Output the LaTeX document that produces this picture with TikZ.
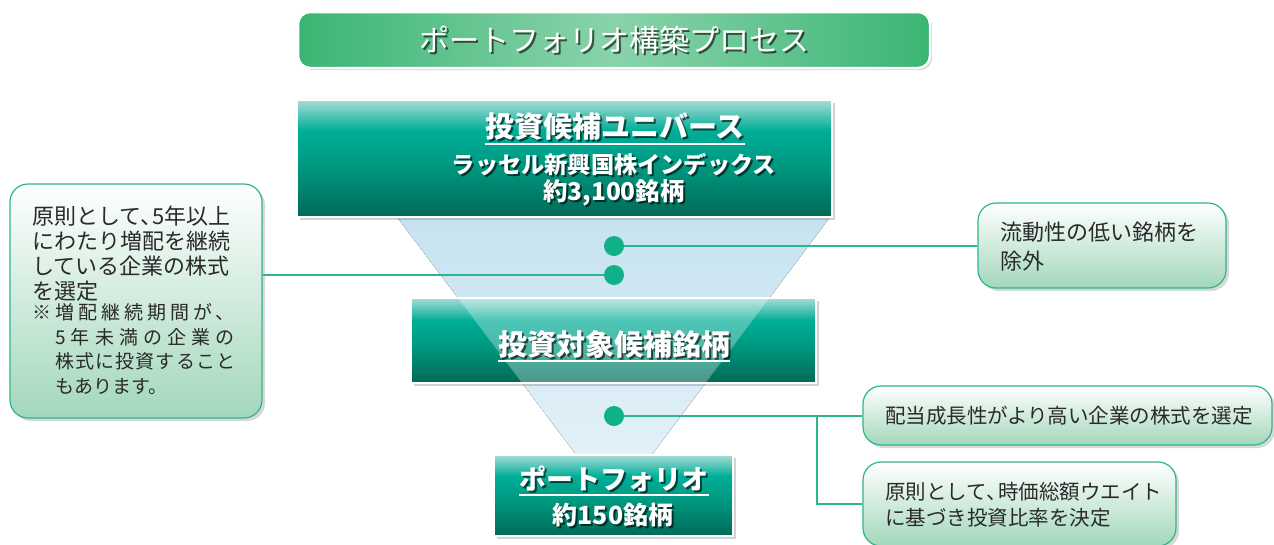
\documentclass[tikz,border=0pt]{standalone}
\usepackage{fontspec}
\setmainfont{Noto Sans CJK JP}
\usetikzlibrary{shadows,calc}
\definecolor{tlight}{HTML}{A8DCD6}
\definecolor{tbright}{HTML}{00AE98}
\definecolor{tmid}{HTML}{009A82}
\definecolor{tdark}{HTML}{006A56}
\definecolor{ggreen}{HTML}{3AB574}
\definecolor{glight}{HTML}{8AD3AA}
\definecolor{cline}{HTML}{2DB68E}
\definecolor{cfill}{HTML}{A2D7BA}
\definecolor{dotc}{HTML}{10B088}
\definecolor{funtop}{HTML}{C6E2F0}
\definecolor{funbot}{HTML}{E8F4FA}
\definecolor{txt}{HTML}{2A2A2A}
\pgfdeclareverticalshading{tealsh}{100bp}{color(0bp)=(tdark); color(25bp)=(tdark); color(48bp)=(tmid); color(62bp)=(tbright); color(75bp)=(tlight); color(100bp)=(tlight)}
\tikzset{
  tealbox/.style={draw=white, line width=2pt, shading=tealsh, drop shadow={opacity=0.35,shadow xshift=3pt,shadow yshift=-3pt}},
  titlebox/.style={draw=white, line width=2.5pt, rounded corners=12pt, left color=ggreen, right color=ggreen, middle color=glight, drop shadow={opacity=0.35,shadow xshift=2pt,shadow yshift=-2pt}},
  callout/.style={draw=cline, line width=1.2pt, rounded corners=18pt, top color=white, bottom color=cfill, drop shadow={opacity=0.3,shadow xshift=3pt,shadow yshift=-3pt}},
  wtxt/.style={text=white, inner sep=0pt, align=center},
  stxt/.style={text=black, opacity=0.6, inner sep=0pt, align=center},
  uline/.style={draw=white, line width=1.6pt},
  conn/.style={draw=cline, line width=1.3pt},
  dotn/.style={circle, fill=dotc, inner sep=0pt, minimum size=20pt},
  ctxt/.style={text=txt, inner sep=0pt, align=left},
}
\newcommand{\notefont}[1]{\addfontfeatures{LetterSpace=#1}}
\begin{document}
\begin{tikzpicture}[x=1pt,y=-1pt]
\useasboundingbox (0,0) rectangle (1274,544);
\fill[white] (0,0) rectangle (1274,544);
% funnel
\fill[top color=funtop, bottom color=funbot] (397,217) -- (830,217) -- (614,505) -- cycle;
% title
\node[titlebox, minimum width=632pt, minimum height=56pt] (title) at (614,40) {};
\node[stxt, font=\fontsize{30}{34}\selectfont] (titles) at (616,42) {ポートフォリオ構築プロセス};
\node[wtxt, font=\fontsize{30}{34}\selectfont] (titlet) at (614,40) {ポートフォリオ構築プロセス};
% top box
\node[tealbox, minimum width=535pt, minimum height=117pt] (top) at (564.5,158.5) {};
\node[stxt, font=\fontsize{29}{33}\selectfont\bfseries] (h1s) at (617,129) {投資候補ユニバース};
\node[wtxt, font=\fontsize{29}{33}\selectfont\bfseries] (h1) at (615,127) {投資候補ユニバース};
\draw[uline] ([yshift=-3pt]h1.south west) -- ([yshift=-3pt]h1.south east);
\node[stxt, font=\fontsize{23.2}{26}\selectfont\bfseries] (s1s) at (616,167) {ラッセル新興国株インデックス};
\node[wtxt, font=\fontsize{23.2}{26}\selectfont\bfseries] (s1) at (614,165) {ラッセル新興国株インデックス};
\node[stxt, font=\fontsize{24.5}{28}\selectfont\bfseries] (s2s) at (616,195) {約3,100銘柄};
\node[wtxt, font=\fontsize{24.5}{28}\selectfont\bfseries] (s2) at (614,193) {約3,100銘柄};
% middle box
\node[tealbox, minimum width=405pt, minimum height=85pt] (mid) at (613.5,340.5) {};
\begin{scope}
\clip (411,298) rectangle (816,383);
\fill[white, opacity=0.3] (397,217) -- (830,217) -- (614,505) -- cycle;
\end{scope}
\node[stxt, font=\fontsize{29}{33}\selectfont\bfseries] (h2s) at (616,346) {投資対象候補銘柄};
\node[wtxt, font=\fontsize{29}{33}\selectfont\bfseries] (h2) at (614,344) {投資対象候補銘柄};
\draw[uline] ([yshift=-3pt]h2.south west) -- ([yshift=-3pt]h2.south east);
% bottom box
\node[tealbox, minimum width=239pt, minimum height=81pt] (bot) at (613.5,495.5) {};
\node[stxt, font=\fontsize{27}{31}\selectfont\bfseries] (h3s) at (616,481) {ポートフォリオ};
\node[wtxt, font=\fontsize{27}{31}\selectfont\bfseries] (h3) at (614,479) {ポートフォリオ};
\draw[uline] ([yshift=-3pt]h3.south west) -- ([yshift=-3pt]h3.south east);
\node[stxt, font=\fontsize{25}{29}\selectfont\bfseries] (s3s) at (615,517) {約150銘柄};
\node[wtxt, font=\fontsize{25}{29}\selectfont\bfseries] (s3) at (613,515) {約150銘柄};
% callouts
\node[callout, minimum width=252pt, minimum height=234pt] (lb) at (136,301) {};
\node[ctxt, anchor=north west, font=\fontsize{22}{25}\selectfont] (lbt) at (32,206) {原則として、\kern-0.45em5年以上\\にわたり増配を継続\\している企業の株式\\を選定};
\node[ctxt, anchor=north west, font=\fontsize{19}{24.6}\selectfont] (lbn) at (32,303.5) {{\notefont{21}※増配継続期間が、}\\{\notefont{27}\hspace*{23pt}5年未満の企業の}\\{\notefont{6}\hspace*{23pt}株式に投資すること}\\{\notefont{0}\hspace*{23pt}もあります。}};
\node[callout, minimum width=248pt, minimum height=85pt] (b1) at (1102,245.5) {};
\node[ctxt, anchor=west, font=\fontsize{22}{29}\selectfont] (b1t) at (1000,247) {流動性の低い銘柄を\\除外};
\node[callout, minimum width=409pt, minimum height=59pt] (b3) at (1067.5,415.5) {};
\node[ctxt, anchor=west, font=\fontsize{20.5}{24}\selectfont] (b3t) at (885,416) {配当成長性がより高い企業の株式を選定};
\node[callout, minimum width=313pt, minimum height=84pt] (b4) at (1019.5,504) {};
\node[ctxt, anchor=west, font=\fontsize{20.5}{26}\selectfont] (b4t) at (885,505) {原則として、\kern-0.4em 時価総額ウエイト\\に基づき投資比率を決定};
% dots and connectors
\node[dotn] (d1) at (614,246) {};
\node[dotn] (d2) at (614,275) {};
\node[dotn] (d3) at (614,416) {};
\coordinate (br) at (817,416);
\draw[conn] (d1.east) -- (d1 -| b1.west);
\draw[conn] (d2.west) -- (d2 -| lb.east);
\draw[conn] (d3.east) -- (d3 -| b3.west);
\draw[conn] (br) |- (b4.west);
\end{tikzpicture}
\end{document}
